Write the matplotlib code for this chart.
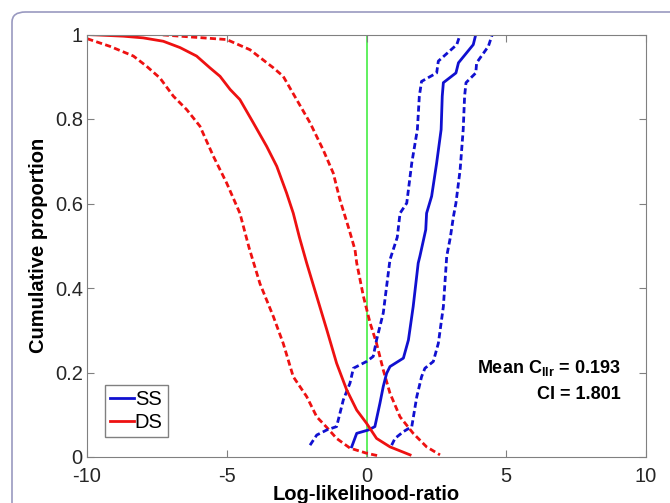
import matplotlib
matplotlib.use('Agg')
import matplotlib.pyplot as plt
from matplotlib.patches import FancyBboxPatch

plt.rcParams['font.family'] = ['Liberation Sans', 'DejaVu Sans']
plt.rcParams['mathtext.fontset'] = 'custom'
plt.rcParams['mathtext.rm'] = 'Liberation Sans'
plt.rcParams['mathtext.bf'] = 'Liberation Sans:bold'

# same-speaker curves (solid = mean, dashed = bounds)
ss_x = [-0.53, -0.35, 0.07, 0.30, 0.48, 0.60, 0.72, 0.84, 1.32, 1.50, 1.67, 1.85, 1.91, 2.12,
        2.15, 2.33, 2.51, 2.67, 2.71, 2.75, 3.20, 3.29, 3.82, 3.91]
ss_y = [0.024, 0.056, 0.064, 0.072, 0.127, 0.167, 0.198, 0.214, 0.234, 0.277, 0.356, 0.459, 0.475, 0.538,
        0.577, 0.617, 0.696, 0.775, 0.854, 0.886, 0.909, 0.933, 0.976, 1.0]
ss_lo_x = [-2.02, -1.78, -1.42, -1.07, -0.83, -0.59, -0.47, 0.0, 0.24, 0.36, 0.60, 0.84, 1.10,
           1.20, 1.44, 1.62, 1.82, 1.89, 1.97, 2.51, 2.57, 3.23, 3.35]
ss_lo_y = [0.028, 0.052, 0.064, 0.072, 0.135, 0.175, 0.210, 0.226, 0.238, 0.277, 0.341, 0.467, 0.52,
           0.577, 0.601, 0.696, 0.775, 0.854, 0.889, 0.909, 0.937, 0.976, 1.0]
ss_hi_x = [0.90, 1.02, 1.32, 1.62, 1.80, 1.97, 2.09, 2.39, 2.57, 2.75, 2.87, 3.00, 3.11, 3.20,
           3.35, 3.46, 3.51, 3.56, 3.91, 3.94, 4.36, 4.50]
ss_hi_y = [0.028, 0.044, 0.060, 0.072, 0.143, 0.190, 0.210, 0.226, 0.269, 0.356, 0.475, 0.52, 0.569, 0.601,
           0.680, 0.775, 0.854, 0.886, 0.909, 0.933, 0.972, 1.0]

# different-speaker curves
ds_x = [-9.99, -8.70, -7.99, -7.27, -6.67, -6.08, -5.60, -5.24, -4.88, -4.53, -4.05, -3.57, -3.21,
        -2.86, -2.62, -2.40, -2.14, -1.78, -1.42, -1.07, -0.71, -0.35, 0.0, 0.36, 0.84, 1.56]
ds_y = [1.0, 0.996, 0.992, 0.984, 0.969, 0.949, 0.921, 0.901, 0.870, 0.846, 0.791, 0.735, 0.688,
        0.625, 0.577, 0.52, 0.459, 0.380, 0.301, 0.222, 0.159, 0.111, 0.080, 0.044, 0.024, 0.005]
ds_lo_x = [-9.99, -9.18, -8.34, -7.87, -7.39, -6.91, -6.43, -5.96, -5.48, -5.00, -4.53, -4.20,
           -3.81, -3.33, -2.98, -2.62, -2.14, -1.78, -1.42, -1.07, -0.59, 0.0, 0.48]
ds_lo_y = [0.99, 0.972, 0.949, 0.925, 0.897, 0.854, 0.822, 0.783, 0.712, 0.648, 0.577, 0.495,
           0.41, 0.332, 0.269, 0.190, 0.143, 0.095, 0.070, 0.044, 0.021, 0.009, 0.002]
ds_hi_x = [-9.99, -7.5, -5.0, -4.17, -3.33, -2.98, -2.50, -2.02, -1.55, -1.19, -0.95, -0.62, -0.41,
           -0.35, -0.11, 0.13, 0.36, 0.60, 0.84, 1.20, 1.67, 2.15, 2.63]
ds_hi_y = [1.0, 1.0, 0.988, 0.964, 0.921, 0.901, 0.846, 0.791, 0.727, 0.672, 0.609, 0.538, 0.49,
           0.459, 0.380, 0.317, 0.269, 0.206, 0.151, 0.095, 0.056, 0.024, 0.005]

x_ticks = [-10, -5, 0, 5, 10]
y_ticks = [0, 0.2, 0.4, 0.6, 0.8, 1]
y_labels = ['0', '0.2', '0.4', '0.6', '0.8', '1']
mean_cllr = 0.193
ci = 1.801

red = '#ee1111'
blue = '#1010d0'
dash = (0, (2.2, 1.2))

fig = plt.figure(figsize=(6.7, 5.03), dpi=100)

# rounded frame around the panel
frame = FancyBboxPatch((12 / 670, -0.2), 1.2, (503 - 12) / 503 + 0.2,
                       boxstyle='round,pad=0,rounding_size=0.02',
                       transform=fig.transFigure, fill=False,
                       edgecolor='#9999c0', linewidth=1.2)
fig.patches.append(frame)

ax = fig.add_axes([87 / 670, 1 - 457 / 503, (646 - 87) / 670, (457 - 34.5) / 503])

ax.axvline(0, color='#44ee44', lw=1.2, zorder=1)

ax.plot(ds_hi_x, ds_hi_y, color=red, lw=2, ls=dash)
ax.plot(ds_lo_x, ds_lo_y, color=red, lw=2, ls=dash)
ax.plot(ss_lo_x, ss_lo_y, color=blue, lw=2, ls=dash)
ax.plot(ss_hi_x, ss_hi_y, color=blue, lw=2, ls=dash)
l_ss, = ax.plot(ss_x, ss_y, color=blue, lw=2)
l_ds, = ax.plot(ds_x, ds_y, color=red, lw=2)

ax.set_xlim(-10, 10)
ax.set_ylim(0, 1)
ax.set_xticks(x_ticks)
ax.set_xticklabels([str(t) for t in x_ticks])
ax.set_yticks(y_ticks)
ax.set_yticklabels(y_labels)
ax.tick_params(direction='in', length=5, color='#808080', labelsize=14.5,
               top=True, right=True, labelcolor='#262626')
ax.tick_params(axis='x', pad=7.5)
ax.tick_params(axis='y', pad=3)
for s in ax.spines.values():
    s.set_color('#808080')

ax.set_xlabel('Log-likelihood-ratio', fontsize=14.5, fontweight='bold', labelpad=-1)
ax.set_ylabel('Cumulative proportion', fontsize=14.5, fontweight='bold', labelpad=5)

ax.text(9.1, 0.21, r'Mean C$_{\mathbf{llr}}$ = %.3f' % mean_cllr, ha='right', va='center',
        fontsize=13, fontweight='bold')
ax.text(9.1, 0.147, 'CI = %.3f' % ci, ha='right', va='center',
        fontsize=13, fontweight='bold')

leg = ax.legend([l_ss, l_ds], ['SS', 'DS'], loc='lower left', bbox_to_anchor=(0.033, 0.048),
                fontsize=14.5, fancybox=False, edgecolor='#808080', framealpha=1,
                handlelength=1.15, handletextpad=0.05, borderpad=0.25, labelspacing=0.2,
                borderaxespad=0)
leg.get_frame().set_linewidth(1)

fig.savefig('out.png', dpi=100)
